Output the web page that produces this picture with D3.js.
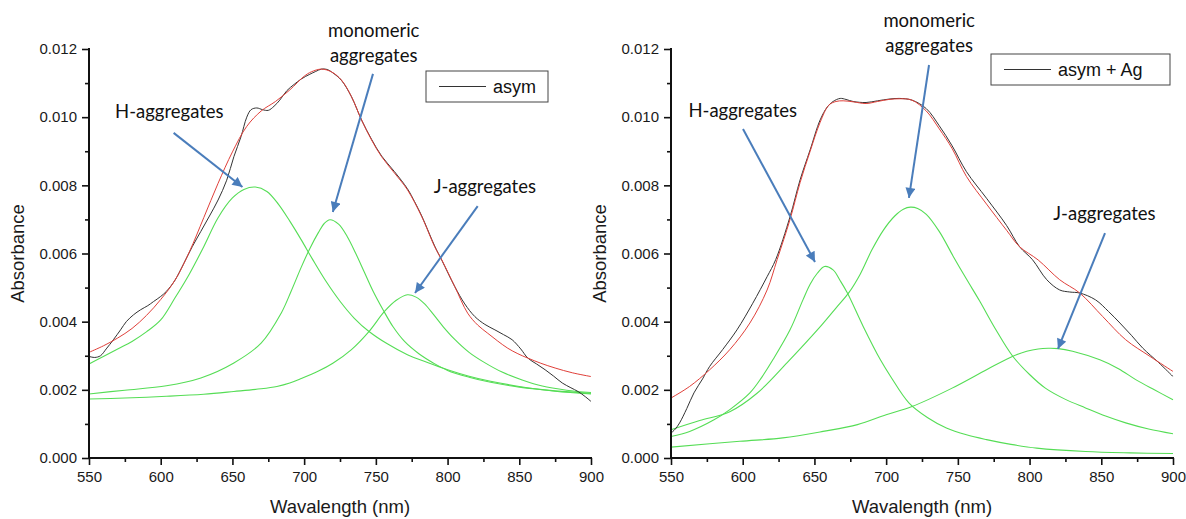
<!DOCTYPE html>
<html>
<head>
<meta charset="utf-8">
<script src="https://cdn.jsdelivr.net/npm/d3@7/dist/d3.min.js"></script>
<style>
  body { margin: 0; background: #fff; }
  svg { display: block; }
</style>
</head>
<body>
<svg id="chart" width="1186" height="519"></svg>
<script>
// ---- Sample "asym": measured spectrum, total fit and three fitted bands ----
const asymMeasured = [
  [550,.00298],[554,.00295],[558,.00300],[562,.00320],[567,.00347],[572,.00376],[576,.00400],
  [581,.00420],[586,.00435],[591,.00447],[595,.00459],[600,.00474],[604,.00489],[610,.00522],
  [616,.00570],[622,.00620],[628,.00665],[634,.00710],[640,.00757],[646,.00815],[651,.00884],
  [656,.00943],[660,.01000],[663,.01022],[667,.01027],[671,.01022],[675,.01020],[679,.01032],
  [683,.01050],[688,.01078],[693,.01096],[698,.01112],[704,.01126],[708,.01134],[712,.01141],
  [716,.01140],[720,.01130],[726,.01108],[733,.01060],[740,.00992],[747,.00935],[754,.00886],
  [763,.00840],[772,.00790],[777,.00752],[782,.00710],[791,.00622],[796,.00580],[805,.00503],
  [812,.00452],[819,.00415],[826,.00392],[833,.00376],[839,.00362],[845,.00347],[851,.00320],
  [856,.00293],[862,.00276],[868,.00259],[874,.00240],[880,.00220],[886,.00206],[891,.00195],
  [896,.00180],[900,.00166]
];
const asymFit = [
  [550,.00310],[560,.00329],[570,.00352],[580,.00380],[590,.00418],[600,.00465],[610,.00522],
  [620,.00605],[630,.00705],[640,.00806],[650,.00898],[660,.00973],[670,.01018],[680,.01046],
  [690,.01080],[700,.01120],[705,.01133],[712,.01141],[719,.01133],[726,.01109],[733,.01060],
  [740,.00992],[747,.00933],[754,.00884],[763,.00836],[772,.00787],[782,.00708],[791,.00620],
  [796,.00581],[805,.00503],[814,.00425],[821,.00390],[828,.00366],[835,.00343],[842,.00322],
  [849,.00306],[856,.00293],[865,.00278],[875,.00264],[887,.00250],[900,.00239]
];
const asymBandH = [
  [550,.00276],[560,.00298],[570,.00320],[580,.00342],[590,.00370],[600,.00405],[610,.00470],
  [620,.00540],[630,.00620],[640,.00705],[650,.00763],[658,.00788],[666,.00795],[674,.00782],
  [682,.00745],[690,.00695],[698,.00640],[706,.00582],[715,.00520],[725,.00460],[735,.00410],
  [745,.00372],[758,.00335],[772,.00303],[786,.00280],[800,.00259],[815,.00240],[830,.00225],
  [850,.00210],[875,.00196],[900,.00188]
];
const asymBandMono = [
  [550,.00188],[575,.00199],[604,.00212],[628,.00235],[651,.00279],[670,.00337],[684,.00425],
  [691,.00490],[698,.00560],[704,.00615],[710,.00662],[714,.00688],[718,.00699],[724,.00686],
  [730,.00650],[736,.00600],[742,.00545],[748,.00490],[755,.00435],[762,.00385],[770,.00342],
  [780,.00306],[790,.00279],[800,.00257],[815,.00237],[830,.00222],[850,.00208],[875,.00197],
  [900,.00190]
];
const asymBandJ = [
  [550,.00173],[575,.00176],[604,.00181],[630,.00187],[651,.00195],[670,.00203],[681,.00210],
  [690,.00220],[698,.00233],[710,.00255],[720,.00278],[733,.00318],[745,.00370],[756,.00430],
  [764,.00462],[772,.00479],[778,.00472],[784,.00452],[790,.00422],[797,.00385],[805,.00348],
  [815,.00310],[825,.00282],[838,.00252],[852,.00229],[866,.00211],[883,.00199],[900,.00192]
];

// ---- Sample "asym + Ag" ----
const agMeasured = [
  [550,.00073],[553,.00085],[556,.00103],[561,.00145],[566,.00191],[572,.00232],[577,.00269],
  [586,.00318],[596,.00376],[607,.00454],[617,.00532],[623,.00582],[633,.00708],[640,.00816],
  [647,.00904],[654,.00992],[659,.01030],[663,.01046],[668,.01055],[672,.01052],[677,.01046],
  [686,.01043],[694,.01048],[702,.01053],[709,.01055],[718,.01050],[728,.01025],[737,.00975],
  [746,.00916],[756,.00840],[770,.00762],[784,.00682],[793,.00620],[802,.00582],[812,.00523],
  [821,.00493],[828,.00487],[835,.00484],[846,.00464],[855,.00430],[863,.00396],[871,.00360],
  [879,.00322],[890,.00280],[900,.00239]
];
const agFit = [
  [550,.00176],[563,.00210],[577,.00259],[591,.00318],[605,.00396],[617,.00493],[624,.00582],
  [633,.00700],[640,.00808],[647,.00900],[654,.00985],[660,.01035],[665,.01046],[670,.01048],
  [677,.01045],[686,.01040],[694,.01046],[702,.01052],[710,.01054],[718,.01050],[728,.01018],
  [737,.00966],[746,.00908],[756,.00826],[770,.00745],[784,.00668],[793,.00620],[806,.00581],
  [821,.00523],[835,.00484],[851,.00415],[867,.00347],[884,.00298],[900,.00254]
];
const agBandH = [
  [550,.00063],[563,.00078],[580,.00112],[591,.00142],[605,.00191],[613,.00235],[621,.00288],
  [633,.00376],[642,.00464],[647,.00510],[652,.00542],[657,.00562],[663,.00552],[668,.00520],
  [673,.00484],[684,.00386],[696,.00288],[703,.00240],[716,.00161],[729,.00118],[742,.00088],
  [756,.00068],[770,.00054],[787,.00040],[805,.00029],[839,.00019],[870,.00015],[900,.00013]
];
const agBandMono = [
  [550,.00083],[570,.00110],[591,.00136],[610,.00190],[631,.00280],[655,.00390],[665,.00440],
  [674,.00485],[682,.00540],[690,.00610],[698,.00668],[706,.00710],[712,.00730],[717,.00736],
  [722,.00732],[728,.00715],[737,.00665],[747,.00590],[756,.00525],[765,.00462],[776,.00380],
  [788,.00300],[800,.00245],[811,.00205],[825,.00172],[839,.00147],[853,.00123],[867,.00103],
  [883,.00085],[900,.00071]
];
const agBandJ = [
  [550,.00032],[598,.00049],[628,.00059],[656,.00078],[680,.00098],[700,.00127],[718,.00151],
  [746,.00205],[770,.00259],[788,.00298],[798,.00313],[806,.00320],[813,.00322],[820,.00321],
  [830,.00313],[849,.00288],[862,.00262],[874,.00230],[887,.00200],[900,.00171]
];

// ---- Axis ticks and labels ----
const xMajorTicks = [550, 600, 650, 700, 750, 800, 850, 900];
const xMinorTicks = [575, 625, 675, 725, 775, 825, 875];
const yMajorTicks = [0, 0.002, 0.004, 0.006, 0.008, 0.010, 0.012];
const yMinorTicks = [0.001, 0.003, 0.005, 0.007, 0.009, 0.011];
const xTitle = "Wavalength (nm)";
const yTitle = "Absorbance";

// ---- Annotations: label lines, label anchor [nm, abs], arrow tail and tip [nm, abs] ----
const asymNotes = [
  { lines: ["H-aggregates"], at: [606, 0.00998], from: [609, 0.00954], to: [657, 0.00795] },
  { lines: ["monomeric", "aggregates"], at: [748.5, 0.01235], from: [748, 0.01127], to: [720, 0.00722] },
  { lines: ["J-aggregates"], at: [826, 0.00778], from: [821, 0.00739], to: [777.3, 0.00484] }
];
const agNotes = [
  { lines: ["H-aggregates"], at: [600, 0.01000], from: [600.2, 0.00965], to: [650.4, 0.00575] },
  { lines: ["monomeric", "aggregates"], at: [730, 0.01265], from: [729.9, 0.01153], to: [715.9, 0.00763] },
  { lines: ["J-aggregates"], at: [852.2, 0.00698], from: [852.6, 0.00660], to: [819.8, 0.00320] }
];

const COLORS = { data: "#333", fit: "#e0403a", band: "#55dd55", arrow: "#4a7dbb", axis: "#111" };
const TICK_FONT = "'Liberation Sans', Arial, sans-serif";
const NOTE_FONT = "Lato, 'Open Sans', sans-serif";

const svg = d3.select("#chart");

const panels = [
  { measured: asymMeasured, fit: asymFit, bands: [asymBandH, asymBandMono, asymBandJ],
    notes: asymNotes, legend: "asym",
    left: 89, right: 591, legendBox: { x: 426, y: 71, w: 122, h: 31 } },
  { measured: agMeasured, fit: agFit, bands: [agBandH, agBandMono, agBandJ],
    notes: agNotes, legend: "asym + Ag",
    left: 671, right: 1173, legendBox: { x: 991, y: 54, w: 179, h: 31 } }
];

const TOP = 49, BOTTOM = 458;

// arrowhead
svg.append("defs").append("marker")
  .attr("id", "arrowhead")
  .attr("viewBox", "0 0 10 10")
  .attr("refX", 10).attr("refY", 5)
  .attr("markerUnits", "userSpaceOnUse")
  .attr("markerWidth", 12).attr("markerHeight", 10)
  .attr("orient", "auto")
  .append("path").attr("d", "M0,0 L10,5 L0,10 Z").attr("fill", COLORS.arrow);

panels.forEach(p => {
  const x = d3.scaleLinear().domain([550, 900]).range([p.left, p.right]);
  const y = d3.scaleLinear().domain([0, 0.012]).range([BOTTOM, TOP]);
  const g = svg.append("g");

  const line = d3.line().x(d => x(d[0])).y(d => y(d[1])).curve(d3.curveCatmullRom.alpha(0.5));

  // fitted bands
  p.bands.forEach(b => {
    g.append("path").datum(b).attr("d", line)
      .attr("fill", "none").attr("stroke", COLORS.band).attr("stroke-width", 1.1);
  });
  // measured spectrum and total fit
  g.append("path").datum(p.measured).attr("d", line)
    .attr("fill", "none").attr("stroke", COLORS.data).attr("stroke-width", 1);
  g.append("path").datum(p.fit).attr("d", line)
    .attr("fill", "none").attr("stroke", COLORS.fit).attr("stroke-width", 1);

  // axes
  const xAxis = d3.axisBottom(x).tickValues(xMajorTicks).tickFormat(d3.format("d"))
    .tickSize(7).tickPadding(6);
  const xAxisMinor = d3.axisBottom(x).tickValues(xMinorTicks).tickFormat("").tickSize(4);
  const yAxis = d3.axisLeft(y).tickValues(yMajorTicks).tickFormat(d3.format(".3f"))
    .tickSize(7).tickPadding(5);
  const yAxisMinor = d3.axisLeft(y).tickValues(yMinorTicks).tickFormat("").tickSize(4);

  const styleAxis = sel => {
    sel.select(".domain").remove();
    sel.selectAll(".tick line").attr("stroke", COLORS.axis).attr("stroke-width", 1.6);
    sel.selectAll(".tick text").attr("fill", "#1a1a1a")
      .style("font-family", TICK_FONT).style("font-size", "15px");
  };

  g.append("g").attr("transform", `translate(0,${BOTTOM})`).call(xAxisMinor).call(styleAxis);
  g.append("g").attr("transform", `translate(0,${BOTTOM})`).call(xAxis).call(styleAxis);
  g.append("g").attr("transform", `translate(${p.left},0)`).call(yAxisMinor).call(styleAxis);
  g.append("g").attr("transform", `translate(${p.left},0)`).call(yAxis).call(styleAxis);

  // axis lines (left and bottom only)
  g.append("path")
    .attr("d", `M${p.left},${TOP - 1}V${BOTTOM}H${p.right + 1}`)
    .attr("fill", "none").attr("stroke", COLORS.axis).attr("stroke-width", 2);

  // axis titles
  g.append("text")
    .attr("x", (p.left + p.right) / 2).attr("y", 513)
    .attr("text-anchor", "middle")
    .style("font-family", TICK_FONT).style("font-size", "18.5px").attr("fill", "#1a1a1a")
    .text(xTitle);
  g.append("text")
    .attr("transform", `translate(${p.left - 65},${(TOP + BOTTOM) / 2}) rotate(-90)`)
    .attr("text-anchor", "middle")
    .style("font-family", TICK_FONT).style("font-size", "18.5px").attr("fill", "#1a1a1a")
    .text(yTitle);

  // legend
  const lb = p.legendBox;
  const lg = g.append("g");
  lg.append("rect").attr("x", lb.x).attr("y", lb.y).attr("width", lb.w).attr("height", lb.h)
    .attr("fill", "#fff").attr("stroke", "#444").attr("stroke-width", 1);
  lg.append("line").attr("x1", lb.x + 13).attr("x2", lb.x + 60)
    .attr("y1", lb.y + lb.h / 2).attr("y2", lb.y + lb.h / 2)
    .attr("stroke", COLORS.data).attr("stroke-width", 1);
  lg.append("text").attr("x", lb.x + 67).attr("y", lb.y + lb.h / 2 + 6.5)
    .style("font-family", TICK_FONT).style("font-size", "18px").attr("fill", "#111")
    .text(p.legend);

  // annotations
  p.notes.forEach(n => {
    g.append("line")
      .attr("x1", x(n.from[0])).attr("y1", y(n.from[1]))
      .attr("x2", x(n.to[0])).attr("y2", y(n.to[1]))
      .attr("stroke", COLORS.arrow).attr("stroke-width", 2)
      .attr("marker-end", "url(#arrowhead)");
    const t = g.append("text")
      .attr("text-anchor", "middle")
      .style("font-family", NOTE_FONT).style("font-size", "18.5px").attr("fill", "#111");
    n.lines.forEach((s, i) => {
      t.append("tspan").attr("x", x(n.at[0])).attr("y", y(n.at[1]) + i * 25).text(s);
    });
  });
});
</script>
</body>
</html>
